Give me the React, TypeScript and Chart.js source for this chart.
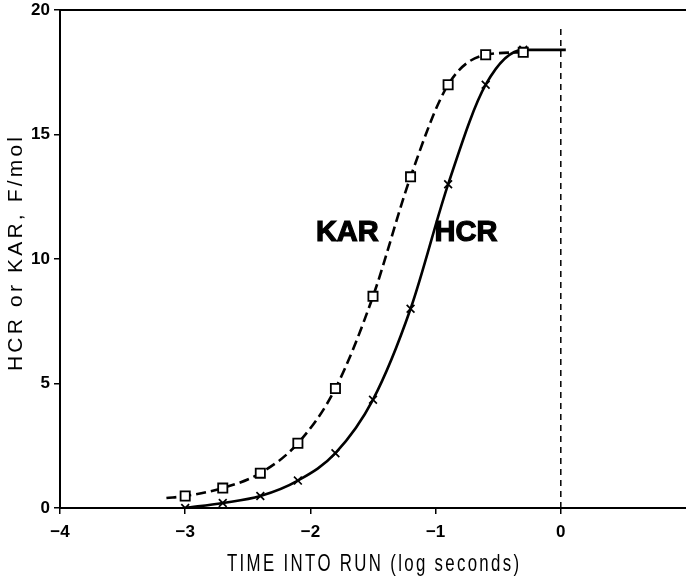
import React, { useEffect, useRef } from 'react';
import { Chart, registerables } from 'chart.js';

Chart.register(...registerables);

const markerX = [-3.0, -2.7, -2.4, -2.1, -1.8, -1.5, -1.2, -0.9, -0.6, -0.3];
const karValues = [0.48, 0.8, 1.4, 2.6, 4.8, 8.5, 13.3, 17.0, 18.2, 18.3];
const hcrValues = [0.0, 0.2, 0.48, 1.1, 2.2, 4.35, 8.0, 13.0, 17.0, 18.4];
const karCurveStart = { x: -3.15, y: 0.4 };
const hcrCurveEnd = { x: 0.04, y: 18.4 };
const zeroLineTop = 19.4;
const xTickValues = [-4, -3, -2, -1, 0, 1];
const hiddenXTick = 1;
const seriesLabels = ['KAR', 'HCR'];
const seriesLabelX = [-1.705, -0.757];
const seriesLabelY = [11.06, 11.06];
const xTitle = 'TIME INTO RUN (log seconds)';
const yTitle = 'HCR or KAR, F/mol';

const FONT = '"Liberation Sans", Arial, Helvetica, sans-serif';

// Draw text centred on (cx, cy), with (optionally narrowed) glyphs spread to a target length
function drawSpaced(
  ctx: CanvasRenderingContext2D,
  text: string,
  cx: number,
  cy: number,
  target: number,
  sx: number
) {
  const chars = text.split('');
  const widths = chars.map((c) => ctx.measureText(c).width * sx);
  const natural = widths.reduce((a, b) => a + b, 0);
  const gap = chars.length > 1 ? (target - natural) / (chars.length - 1) : 0;
  let pos = cx - target / 2;
  ctx.textAlign = 'left';
  ctx.textBaseline = 'middle';
  chars.forEach((c, i) => {
    ctx.save();
    ctx.translate(pos, cy);
    ctx.scale(sx, 1);
    ctx.fillText(c, 0, 0);
    ctx.restore();
    pos += widths[i] + gap;
  });
}

const annotations = {
  id: 'annotations',
  afterDraw(chart: any) {
    const { ctx, chartArea, scales } = chart;
    const xs = scales.x;
    const ys = scales.y;
    ctx.save();
    // top frame line
    ctx.strokeStyle = '#000';
    ctx.lineWidth = 2;
    ctx.beginPath();
    ctx.moveTo(chartArea.left, chartArea.top);
    ctx.lineTo(chartArea.right, chartArea.top);
    ctx.stroke();

    // series labels
    ctx.fillStyle = '#000';
    ctx.font = `bold 29px ${FONT}`;
    ctx.textAlign = 'center';
    ctx.textBaseline = 'middle';
    ctx.strokeStyle = '#000';
    ctx.lineWidth = 1.2;
    seriesLabels.forEach((t, i) => {
      const px = xs.getPixelForValue(seriesLabelX[i]);
      const py = ys.getPixelForValue(seriesLabelY[i]);
      ctx.fillText(t, px, py);
      ctx.strokeText(t, px, py);
    });

    // axis titles
    ctx.font = `24px ${FONT}`;
    drawSpaced(ctx, xTitle, (chartArea.left + chartArea.right) / 2, 564, 292, 0.7);

    ctx.save();
    ctx.translate(16, 254);
    ctx.rotate(-Math.PI / 2);
    ctx.font = `21px ${FONT}`;
    drawSpaced(ctx, yTitle, 0, 0, 234, 1);
    ctx.restore();

    ctx.restore();
  },
};

function fmt(v: number) {
  if (v < 0) return '\u2212' + Math.abs(v);
  return String(v);
}

export default function App() {
  const canvasRef = useRef<HTMLCanvasElement | null>(null);

  useEffect(() => {
    if (!canvasRef.current) return;
    const karPts = markerX.map((x, i) => ({ x, y: karValues[i] }));
    const hcrPts = markerX.map((x, i) => ({ x, y: hcrValues[i] }));

    const chart = new Chart(canvasRef.current, {
      type: 'line',
      data: {
        datasets: [
          {
            label: 'KAR markers',
            data: karPts,
            showLine: false,
            pointStyle: 'rect',
            pointRadius: 6.5,
            pointBorderWidth: 1.8,
            pointBackgroundColor: '#fff',
            pointBorderColor: '#000',
            borderColor: '#000',
            order: 0,
          },
          {
            label: 'HCR markers',
            data: hcrPts,
            showLine: false,
            pointStyle: 'crossRot',
            pointRadius: 5.5,
            pointBorderWidth: 1.7,
            pointBorderColor: '#000',
            borderColor: '#000',
            order: 0,
          },
          {
            label: 'KAR curve',
            data: [karCurveStart, ...karPts],
            borderColor: '#000',
            borderWidth: 2.6,
            borderDash: [10, 5],
            pointRadius: 0,
            cubicInterpolationMode: 'monotone',
            fill: false,
            order: 1,
          },
          {
            label: 'HCR curve',
            data: [...hcrPts, hcrCurveEnd],
            borderColor: '#000',
            borderWidth: 2.6,
            pointRadius: 0,
            cubicInterpolationMode: 'monotone',
            fill: false,
            order: 1,
          },
          {
            label: 'zero',
            data: [
              { x: 0, y: 0 },
              { x: 0, y: zeroLineTop },
            ],
            borderColor: '#000',
            borderWidth: 1.5,
            borderDash: [6, 5],
            pointRadius: 0,
            fill: false,
            order: 2,
          },
        ],
      },
      options: {
        animation: false,
        responsive: true,
        maintainAspectRatio: false,
        layout: { padding: { top: 10, right: 0, left: 0, bottom: 0 } },
        plugins: {
          legend: { display: false },
          tooltip: { enabled: false },
          title: { display: false },
        },
        scales: {
          x: {
            type: 'linear',
            min: -4,
            max: 1,
            afterBuildTicks: (scale: any) => {
              scale.ticks = xTickValues.map((v) => ({ value: v }));
            },
            afterFit: (scale: any) => {
              scale.height = 74;
              scale.paddingLeft = 0;
              scale.paddingRight = 0;
            },
            ticks: {
              autoSkip: false,
              maxRotation: 0,
              padding: 8,
              color: '#000',
              font: { family: FONT, size: 17, weight: 'bold' },
              callback: (v: any) => (Number(v) === hiddenXTick ? '' : fmt(Number(v))),
            },
            grid: {
              display: true,
              drawOnChartArea: false,
              drawTicks: true,
              tickLength: 6,
              lineWidth: 1.5,
              tickColor: (c: any) =>
                c.tick && c.tick.value === hiddenXTick ? 'rgba(0,0,0,0)' : '#000',
            },
            border: { display: true, color: '#000', width: 2 },
          },
          y: {
            type: 'linear',
            min: 0,
            max: 20,
            afterFit: (scale: any) => {
              scale.width = 60;
              scale.paddingTop = 0;
              scale.paddingBottom = 0;
            },
            ticks: {
              stepSize: 5,
              padding: 4,
              color: '#000',
              font: { family: FONT, size: 17, weight: 'bold' },
              callback: (v: any) => fmt(Number(v)),
            },
            grid: {
              display: true,
              drawOnChartArea: false,
              drawTicks: true,
              tickLength: 6,
              lineWidth: 1.5,
              tickColor: '#000',
            },
            border: { display: true, color: '#000', width: 2 },
          },
        },
      } as any,
      plugins: [annotations],
    });

    // Markers should not push the plot area inwards: drop the point-overflow padding.
    chart.data.datasets.forEach((_, i) => {
      const ctrl: any = chart.getDatasetMeta(i).controller;
      if (ctrl) ctrl.getMaxOverflow = () => 0;
    });
    chart.update();

    return () => chart.destroy();
  }, []);

  return (
    <div style={{ position: 'absolute', left: 0, top: 0, width: 686, height: 582, background: '#fff' }}>
      <canvas ref={canvasRef} />
    </div>
  );
}
